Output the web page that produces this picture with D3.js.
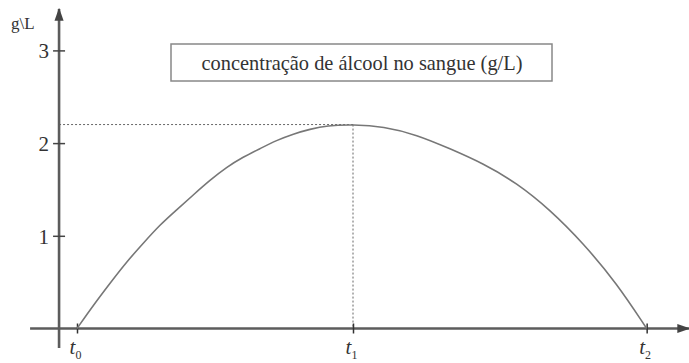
<!DOCTYPE html>
<html>
<head>
<meta charset="utf-8">
<script src="https://cdn.jsdelivr.net/npm/d3@7"></script>
<style>
  body { margin: 0; background: #fff; }
  text { font-family: "Liberation Serif", "DejaVu Serif", serif; fill: #333; }
</style>
</head>
<body>
<svg id="chart" width="689" height="363"></svg>
<script>
// curve (time in units where t0 = 0, t1 = 10)
const times = [0, 0.59, 1.2, 1.8, 2.4, 3.01, 3.61, 4.21, 4.82, 5.42, 6.02, 6.63, 7.23, 7.84, 8.44, 9.05, 10,
               11.1, 12.31, 13.51, 14.72, 15.93, 17.14, 18.34, 19.55, 20.64];
const conc  = [0, 0.25, 0.49, 0.72, 0.92, 1.12, 1.28, 1.44, 1.6, 1.74, 1.85, 1.94, 2.03, 2.1, 2.15, 2.19, 2.2,
               2.18, 2.09, 1.94, 1.78, 1.57, 1.28, 0.92, 0.49, 0];
const yTicks = [1, 2, 3];
const tTicks = [0, 10, 20.64];
const tLabels = ["0", "1", "2"];
const peak = {t: 10, c: 2.2};
const title = "concentração de álcool no sangue (g/L)";
const yUnit = "g\\L";

const svg = d3.select("#chart");

const x = d3.scaleLinear().domain([0, 10]).range([77, 353]);
const y = d3.scaleLinear().domain([0, 3]).range([328.5, 50.4]);

const axisColor = "#5c5c5c";

// arrow heads
const defs = svg.append("defs");
defs.append("marker")
  .attr("id", "arrow")
  .attr("viewBox", "0 0 10 10")
  .attr("refX", 9).attr("refY", 5)
  .attr("markerWidth", 5).attr("markerHeight", 5)
  .attr("markerUnits", "strokeWidth")
  .attr("orient", "auto")
  .append("path")
  .attr("d", "M0,1.5 L10,5 L0,8.5 Z")
  .attr("fill", "#444");

// dotted guides to the peak
svg.append("line")
  .attr("x1", x(-0.65)).attr("x2", x(peak.t))
  .attr("y1", y(peak.c)).attr("y2", y(peak.c))
  .attr("stroke", "#666").attr("stroke-width", 1)
  .attr("stroke-dasharray", "2,2");
svg.append("line")
  .attr("x1", x(peak.t)).attr("x2", x(peak.t))
  .attr("y1", y(peak.c)).attr("y2", y(0))
  .attr("stroke", "#666").attr("stroke-width", 1)
  .attr("stroke-dasharray", "2,2");

// axes lines
svg.append("line")
  .attr("x1", x(-1.7)).attr("x2", 689)
  .attr("y1", y(0)).attr("y2", y(0))
  .attr("stroke", axisColor).attr("stroke-width", 2.6)
  .attr("marker-end", "url(#arrow)");
svg.append("line")
  .attr("x1", x(-0.65)).attr("x2", x(-0.65))
  .attr("y1", 348).attr("y2", 9)
  .attr("stroke", axisColor).attr("stroke-width", 2.6)
  .attr("marker-end", "url(#arrow)");

// y axis ticks
const yAxis = d3.axisLeft(y).tickValues(yTicks).tickFormat(d3.format("d")).tickSize(0).tickPadding(10);
const gy = svg.append("g").attr("transform", `translate(${x(-0.65)},0)`).call(yAxis);
gy.select(".domain").remove();
gy.selectAll(".tick line").attr("x1", -6).attr("x2", 6).attr("stroke", "#444").attr("stroke-width", 1.5);
gy.selectAll(".tick text").attr("font-size", 21).attr("fill", "#333").attr("dy", "0.35em")
  .attr("font-family", "Liberation Serif, serif");

// x axis ticks
const xAxis = d3.axisBottom(x).tickValues(tTicks).tickSize(0).tickFormat(() => "");
const gx = svg.append("g").attr("transform", `translate(0,${y(0)})`).call(xAxis);
gx.select(".domain").remove();
gx.selectAll(".tick line").attr("y1", -5).attr("y2", 5).attr("stroke", "#333").attr("stroke-width", 1.5);
gx.selectAll(".tick text").remove();
gx.selectAll(".tick").each(function(d, i) {
  const t = d3.select(this).append("text")
    .attr("x", -2).attr("y", 25).attr("text-anchor", "middle")
    .attr("font-size", 21).attr("fill", "#333");
  t.append("tspan").attr("font-style", "italic").text("t");
  t.append("tspan").attr("font-size", 12).attr("dy", 5).text(tLabels[i]);
});

// y unit
svg.append("text").attr("x", 11).attr("y", 29)
  .attr("font-size", 17).text(yUnit);

// curve
const pts = times.map((t, i) => [t, conc[i]]);
svg.append("path")
  .datum(pts)
  .attr("fill", "none")
  .attr("stroke", "#777")
  .attr("stroke-width", 1.6)
  .attr("d", d3.line().x(d => x(d[0])).y(d => y(d[1])).curve(d3.curveBasis));

// title box
svg.append("rect")
  .attr("x", 171).attr("y", 44).attr("width", 381).attr("height", 37)
  .attr("fill", "#fff").attr("stroke", "#888").attr("stroke-width", 1.5);
svg.append("text")
  .attr("x", 362).attr("y", 70).attr("text-anchor", "middle")
  .attr("font-size", 21).attr("textLength", 321).attr("lengthAdjust", "spacingAndGlyphs")
  .text(title);
</script>
</body>
</html>
